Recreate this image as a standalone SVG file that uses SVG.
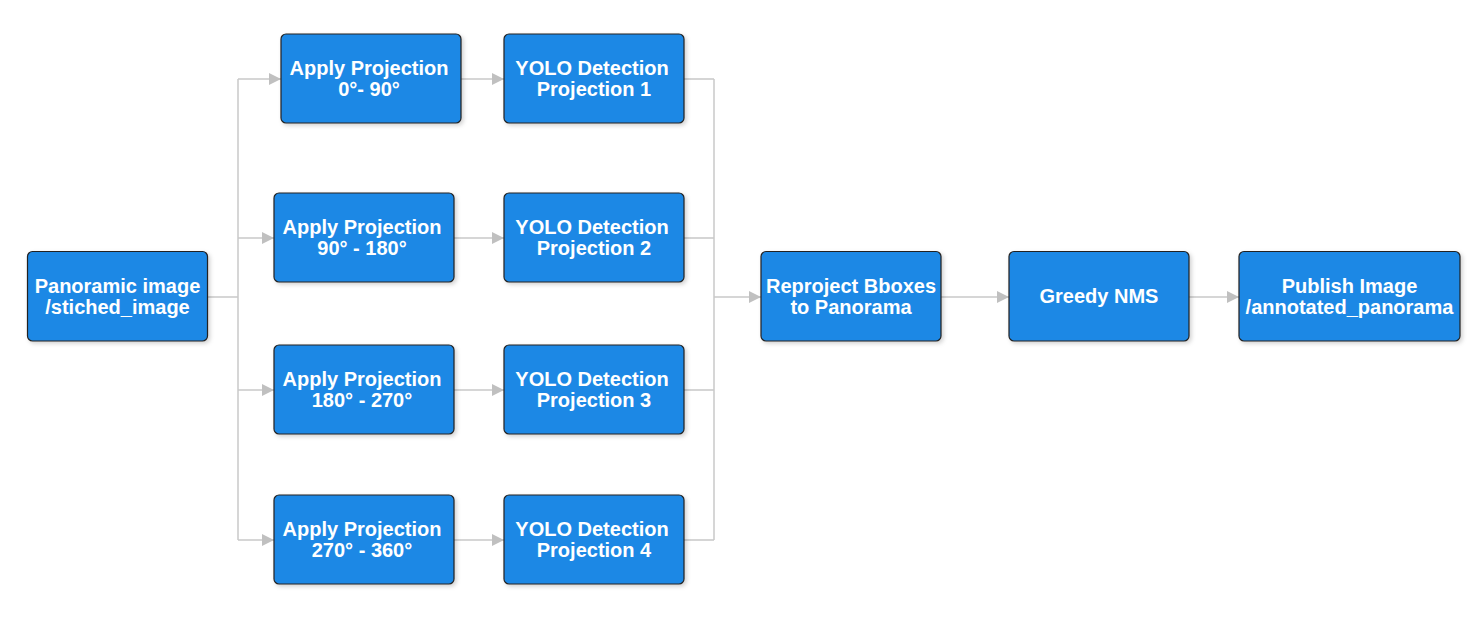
<svg xmlns="http://www.w3.org/2000/svg" width="1474" height="633" viewBox="0 0 1474 633">
<defs>
<style>
.box{fill:#1e88e5;stroke:#222;stroke-width:1.2}
.t{font-family:"Liberation Sans",Arial,sans-serif;font-weight:bold;font-size:20px;fill:#fff;text-anchor:middle}
.c{fill:none;stroke:#c8c8c8;stroke-width:1.5}
</style>
<marker id="ah" markerWidth="12" markerHeight="12" refX="12" refY="6" orient="auto" markerUnits="userSpaceOnUse">
<path d="M0,0 L12,6 L0,12 Z" fill="#c0c0c0"/>
</marker>
<filter id="sh" x="-10%" y="-10%" width="130%" height="130%">
<feDropShadow dx="2" dy="2" stdDeviation="2" flood-color="#000" flood-opacity="0.18"/>
</filter>
</defs>
<rect width="1474" height="633" fill="#fff"/>
<g id="connectors">
<path class="c" d="M208,297 H238"/>
<path class="c" d="M238,79 V540"/>
<path class="c" d="M238,79 H281" marker-end="url(#ah)"/>
<path class="c" d="M238,238 H274" marker-end="url(#ah)"/>
<path class="c" d="M238,390 H274" marker-end="url(#ah)"/>
<path class="c" d="M238,540 H274" marker-end="url(#ah)"/>
<path class="c" d="M461,79 H504" marker-end="url(#ah)"/>
<path class="c" d="M454,238 H504" marker-end="url(#ah)"/>
<path class="c" d="M454,390 H504" marker-end="url(#ah)"/>
<path class="c" d="M454,540 H504" marker-end="url(#ah)"/>
<path class="c" d="M684,79 H714 M684,238 H714 M684,390 H714 M684,540 H714"/>
<path class="c" d="M714,79 V540"/>
<path class="c" d="M714,297 H761" marker-end="url(#ah)"/>
<path class="c" d="M941,297 H1009" marker-end="url(#ah)"/>
<path class="c" d="M1189,297 H1239" marker-end="url(#ah)"/>
</g>
<g id="panoramic"><rect class="box" filter="url(#sh)" x="27.5" y="251.5" width="180" height="89.5" rx="5"/><text class="t" x="117.5" y="293">Panoramic image</text><text class="t" x="117.5" y="314">/stiched_image</text></g>
<g id="proj1"><rect class="box" filter="url(#sh)" x="281" y="34" width="180" height="89" rx="5"/><text class="t" x="369" y="75">Apply Projection</text><text class="t" x="369" y="96">0°- 90°</text></g>
<g id="proj2"><rect class="box" filter="url(#sh)" x="274" y="193" width="180" height="89" rx="5"/><text class="t" x="362" y="234">Apply Projection</text><text class="t" x="362" y="255">90° - 180°</text></g>
<g id="proj3"><rect class="box" filter="url(#sh)" x="274" y="345" width="180" height="89" rx="5"/><text class="t" x="362" y="386">Apply Projection</text><text class="t" x="362" y="407">180° - 270°</text></g>
<g id="proj4"><rect class="box" filter="url(#sh)" x="274" y="495" width="180" height="89" rx="5"/><text class="t" x="362" y="536">Apply Projection</text><text class="t" x="362" y="557">270° - 360°</text></g>
<g id="yolo1"><rect class="box" filter="url(#sh)" x="504" y="34" width="180" height="89" rx="5"/><text class="t" x="592" y="75">YOLO Detection</text><text class="t" x="594" y="96">Projection 1</text></g>
<g id="yolo2"><rect class="box" filter="url(#sh)" x="504" y="193" width="180" height="89" rx="5"/><text class="t" x="592" y="234">YOLO Detection</text><text class="t" x="594" y="255">Projection 2</text></g>
<g id="yolo3"><rect class="box" filter="url(#sh)" x="504" y="345" width="180" height="89" rx="5"/><text class="t" x="592" y="386">YOLO Detection</text><text class="t" x="594" y="407">Projection 3</text></g>
<g id="yolo4"><rect class="box" filter="url(#sh)" x="504" y="495" width="180" height="89" rx="5"/><text class="t" x="592" y="536">YOLO Detection</text><text class="t" x="594" y="557">Projection 4</text></g>
<g id="reproject"><rect class="box" filter="url(#sh)" x="761" y="251.5" width="180" height="89.5" rx="5"/><text class="t" x="851" y="293">Reproject Bboxes</text><text class="t" x="851" y="314">to Panorama</text></g>
<g id="nms"><rect class="box" filter="url(#sh)" x="1009" y="251.5" width="180" height="89.5" rx="5"/><text class="t" x="1099" y="303">Greedy NMS</text></g>
<g id="publish"><rect class="box" filter="url(#sh)" x="1239" y="251.5" width="221" height="89.5" rx="5"/><text class="t" x="1349.5" y="293">Publish Image</text><text class="t" x="1349.5" y="314">/annotated_panorama</text></g>
</svg>
